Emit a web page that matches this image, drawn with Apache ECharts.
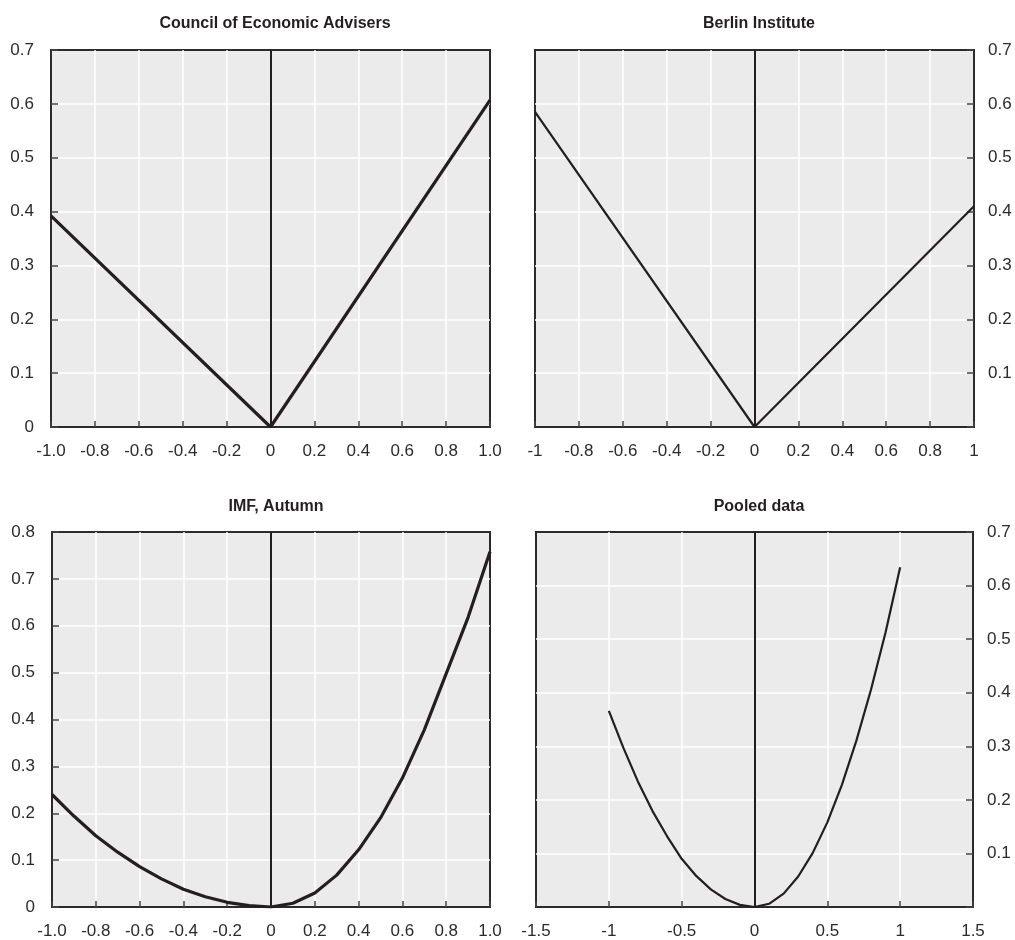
<!DOCTYPE html>
<html>
<head>
<meta charset="utf-8">
<script src="https://cdn.jsdelivr.net/npm/echarts@6/dist/echarts.min.js"></script>
<style>
  html, body { margin: 0; padding: 0; background: #fff; }
  #chart { width: 1015px; height: 940px; }
</style>
</head>
<body>
<div id="chart"></div>
<script>
  // panel titles
  const titles = ['Council of Economic Advisers', 'Berlin Institute', 'IMF, Autumn', 'Pooled data'];

  // Council of Economic Advisers
  const ceaX = [-1, 0, 1];
  const ceaY = [0.392, 0, 0.607];

  // Berlin Institute
  const berlinX = [-1, 0, 1];
  const berlinY = [0.585, 0, 0.41];

  // IMF, Autumn
  const imfX = [-1, -0.9, -0.8, -0.7, -0.6, -0.5, -0.4, -0.3, -0.2, -0.1, 0, 0.1, 0.2, 0.3, 0.4, 0.5, 0.6, 0.7, 0.8, 0.9, 1];
  const imfY = [0.24, 0.194, 0.152, 0.117, 0.086, 0.06, 0.038, 0.022, 0.01, 0.003, 0, 0.008, 0.03, 0.068, 0.122, 0.19, 0.275, 0.378, 0.498, 0.618, 0.758];

  // Pooled data
  const pooledX = [-1, -0.9, -0.8, -0.7, -0.6, -0.5, -0.4, -0.3, -0.2, -0.1, 0, 0.1, 0.2, 0.3, 0.4, 0.5, 0.6, 0.7, 0.8, 0.9, 1];
  const pooledY = [0.366, 0.297, 0.234, 0.179, 0.132, 0.09, 0.058, 0.033, 0.015, 0.004, 0, 0.006, 0.025, 0.057, 0.101, 0.158, 0.228, 0.311, 0.406, 0.513, 0.634];

  // tick labels
  const xTicksTenths = ['-1.0', '-0.8', '-0.6', '-0.4', '-0.2', '0', '0.2', '0.4', '0.6', '0.8', '1.0'];
  const xTicksBerlin = ['-1', '-0.8', '-0.6', '-0.4', '-0.2', '0', '0.2', '0.4', '0.6', '0.8', '1'];
  const xTicksPooled = ['-1.5', '-1', '-0.5', '0', '0.5', '1', '1.5'];
  const yTicks07 = ['0', '0.1', '0.2', '0.3', '0.4', '0.5', '0.6', '0.7'];
  const yTicks07NoZero = ['', '0.1', '0.2', '0.3', '0.4', '0.5', '0.6', '0.7'];
  const yTicks08 = ['0', '0.1', '0.2', '0.3', '0.4', '0.5', '0.6', '0.7', '0.8'];

  const font = "'Liberation Sans Narrow', 'Arial Narrow', 'Liberation Sans', sans-serif";
  const ink = '#231f20';
  const frame = '#2b2b2b';

  function pairs(xs, ys) {
    return xs.map((x, i) => [x, ys[i]]);
  }

  function xAxis(idx, min, max, interval, labels) {
    return {
      type: 'value', gridIndex: idx, min: min, max: max, interval: interval, position: 'bottom',
      axisLine: { show: true, onZero: false, lineStyle: { color: frame, width: 2 } },
      axisTick: { show: true, inside: true, length: 6, lineStyle: { color: '#444', width: 1.5 } },
      splitLine: { show: true, showMinLine: false, showMaxLine: false, lineStyle: { color: '#fff', width: 1.5 } },
      axisLabel: {
        margin: 16, fontFamily: font, fontSize: 17, color: '#2b2b2b',
        formatter: (v, i) => labels[i]
      }
    };
  }

  function yAxis(idx, max, labels, side) {
    return {
      type: 'value', gridIndex: idx, min: 0, max: max, interval: 0.1, position: side,
      axisLine: { show: true, onZero: false, lineStyle: { color: frame, width: 2 } },
      axisTick: { show: true, inside: true, length: 7, lineStyle: { color: '#444', width: 1.5 } },
      splitLine: { show: true, showMinLine: false, showMaxLine: false, lineStyle: { color: '#fff', width: 1.5 } },
      axisLabel: {
        margin: side === 'left' ? 17 : 14, fontFamily: font, fontSize: 17, color: '#2b2b2b',
        formatter: (v, i) => labels[i]
      }
    };
  }

  function lineSeries(idx, data, width) {
    return {
      type: 'line', xAxisIndex: idx, yAxisIndex: idx, data: data,
      symbol: 'none', smooth: false, animation: false, z: 5,
      lineStyle: { color: ink, width: width },
      markLine: {
        silent: true, symbol: ['none', 'none'], animation: false,
        label: { show: false },
        lineStyle: { color: ink, width: 2, type: 'solid' },
        data: [{ xAxis: 0 }]
      }
    };
  }

  const gridBase = { show: true, backgroundColor: '#ebebeb', borderColor: frame, borderWidth: 2 };

  let myChart = echarts.init(document.getElementById('chart'));
  myChart.setOption({
    animation: false,
    title: [
      { text: titles[0], left: 270, top: 11, textAlign: 'center' },
      { text: titles[1], left: 754, top: 11, textAlign: 'center' },
      { text: titles[2], left: 271, top: 494, textAlign: 'center' },
      { text: titles[3], left: 754, top: 494, textAlign: 'center' }
    ].map(t => Object.assign(t, {
      textStyle: { fontFamily: font, fontSize: 16, fontWeight: 'bold', color: ink }
    })),
    grid: [
      Object.assign({ left: 51, top: 50, width: 439, height: 377 }, gridBase),
      Object.assign({ left: 535, top: 50, width: 439, height: 377 }, gridBase),
      Object.assign({ left: 52, top: 532, width: 438, height: 378 }, gridBase),
      Object.assign({ left: 536, top: 532, width: 437, height: 378 }, gridBase)
    ],
    xAxis: [
      xAxis(0, -1, 1, 0.2, xTicksTenths),
      xAxis(1, -1, 1, 0.2, xTicksBerlin),
      xAxis(2, -1, 1, 0.2, xTicksTenths),
      xAxis(3, -1.5, 1.5, 0.5, xTicksPooled)
    ],
    yAxis: [
      yAxis(0, 0.7, yTicks07, 'left'),
      yAxis(1, 0.7, yTicks07NoZero, 'right'),
      yAxis(2, 0.8, yTicks08, 'left'),
      yAxis(3, 0.7, yTicks07NoZero, 'right')
    ],
    series: [
      lineSeries(0, pairs(ceaX, ceaY), 3.2),
      lineSeries(1, pairs(berlinX, berlinY), 2.2),
      lineSeries(2, pairs(imfX, imfY), 3.2),
      lineSeries(3, pairs(pooledX, pooledY), 2.2)
    ]
  });
</script>
</body>
</html>
